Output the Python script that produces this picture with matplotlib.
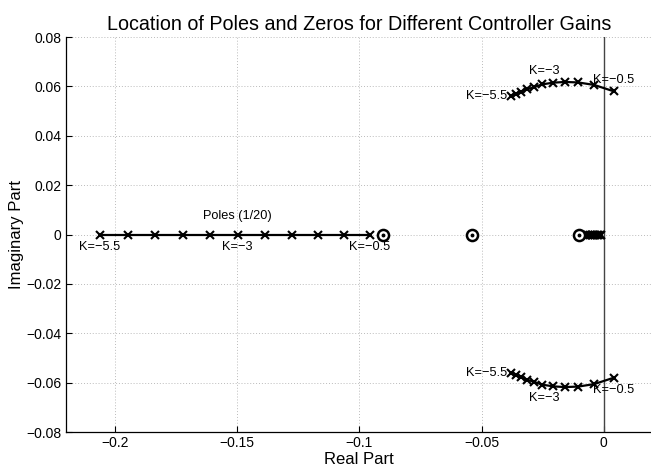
import matplotlib
matplotlib.use("Agg")
import matplotlib.pyplot as plt

plt.rcParams['font.family'] = ['Liberation Sans', 'DejaVu Sans']

# Controller gains K = -5.5 ... -0.5
gains = [-5.5, -5.0, -4.5, -4.0, -3.5, -3.0, -2.5, -2.0, -1.5, -1.0, -0.5]

# Real-axis poles (scaled by 1/20)
real_poles = [-0.206, -0.1947, -0.1834, -0.1722, -0.1609, -0.1497,
              -0.1385, -0.1274, -0.1170, -0.1061, -0.0956]

# Poles clustered near the origin
near_origin_poles = [-0.0078, -0.0071, -0.0064, -0.0057, -0.0050, -0.0043,
                     -0.0036, -0.0029, -0.0022, -0.0016, -0.0011]

# Complex pole pair (upper half; lower half is conjugate)
complex_re = [-0.0379, -0.0359, -0.0339, -0.0314, -0.0285, -0.0253,
              -0.0208, -0.0159, -0.0105, -0.0040, 0.0041]
complex_im = [0.0562, 0.0571, 0.0579, 0.0588, 0.0597, 0.0608,
              0.0615, 0.0618, 0.0616, 0.0606, 0.0580]

# Zeros (on the real axis)
zeros_re = [-0.0903, -0.0539, -0.0101]

xticks = [-0.2, -0.15, -0.1, -0.05, 0]
xtick_labels = ['\u22120.2', '\u22120.15', '\u22120.1', '\u22120.05', '0']
yticks = [-0.08, -0.06, -0.04, -0.02, 0, 0.02, 0.04, 0.06, 0.08]
ytick_labels = ['\u22120.08', '\u22120.06', '\u22120.04', '\u22120.02', '0',
                '0.02', '0.04', '0.06', '0.08']

fig = plt.figure(figsize=(6.51, 4.68), dpi=100)
ax = fig.add_axes([0.101, 0.0769, 0.9017, 0.844])

ax.set_xlim(-0.22, 0.02)
ax.set_ylim(-0.08, 0.08)

# imaginary axis
ax.axvline(0, color='#444444', lw=1.0, zorder=1)

mk = dict(marker='x', markersize=6, mew=1.5, color='black', lw=1.6, zorder=3)

ax.plot(real_poles, [0 for _ in real_poles], **mk)
ax.plot(near_origin_poles, [0 for _ in near_origin_poles], **mk)
ax.plot(complex_re, complex_im, **mk)
ax.plot(complex_re, [-v for v in complex_im], **mk)

ax.plot(zeros_re, [0 for _ in zeros_re], linestyle='none', marker='o',
        markersize=8, mfc='white', mec='black', mew=1.8, zorder=4)
ax.plot(zeros_re, [0 for _ in zeros_re], linestyle='none', marker='o',
        markersize=1.8, color='black', zorder=5)

fs = 9.2
# real-axis labels
ax.annotate('K=\u22125.5', (real_poles[0], 0), xytext=(0, -12.5), textcoords='offset pixels',
            ha='center', va='center', fontsize=fs)
ax.annotate('K=\u22123', (real_poles[5], 0), xytext=(0, -12.5), textcoords='offset pixels',
            ha='center', va='center', fontsize=fs)
ax.annotate('K=\u22120.5', (real_poles[-1], 0), xytext=(0, -12.5), textcoords='offset pixels',
            ha='center', va='center', fontsize=fs)
ax.annotate('Poles (1/20)', (real_poles[5], 0), xytext=(0, 18.5), textcoords='offset pixels',
            ha='center', va='center', fontsize=fs)

# upper branch labels
ax.annotate('K=\u22125.5', (complex_re[0], complex_im[0]), xytext=(-4, 0),
            textcoords='offset pixels', ha='right', va='center', fontsize=fs)
ax.annotate('K=\u22123', (complex_re[5], complex_im[5]), xytext=(2, 13.5),
            textcoords='offset pixels', ha='center', va='center', fontsize=fs)
ax.annotate('K=\u22120.5', (complex_re[-1], complex_im[-1]), xytext=(0, 11),
            textcoords='offset pixels', ha='center', va='center', fontsize=fs)
# lower branch labels
ax.annotate('K=\u22125.5', (complex_re[0], -complex_im[0]), xytext=(-4, 0),
            textcoords='offset pixels', ha='right', va='center', fontsize=fs)
ax.annotate('K=\u22123', (complex_re[5], -complex_im[5]), xytext=(2, -13.5),
            textcoords='offset pixels', ha='center', va='center', fontsize=fs)
ax.annotate('K=\u22120.5', (complex_re[-1], -complex_im[-1]), xytext=(0, -12.5),
            textcoords='offset pixels', ha='center', va='center', fontsize=fs)

ax.set_xticks(xticks)
ax.set_xticklabels(xtick_labels)
ax.set_yticks(yticks)
ax.set_yticklabels(ytick_labels)
ax.tick_params(direction='in', length=4, width=0.8, labelsize=10, colors='black', pad=3)
ax.grid(True, linestyle=(0, (1, 2)), color='#bbbbbb', lw=0.7)
ax.set_axisbelow(True)

for s in ['top', 'right']:
    ax.spines[s].set_visible(False)
for s in ['left', 'bottom']:
    ax.spines[s].set_linewidth(0.9)

ax.set_title('Location of Poles and Zeros for Different Controller Gains', fontsize=14.2, pad=5)
ax.set_xlabel('Real Part', fontsize=12, labelpad=1)
ax.set_ylabel('Imaginary Part', fontsize=12, labelpad=2)

fig.savefig('out.png', dpi=100)
